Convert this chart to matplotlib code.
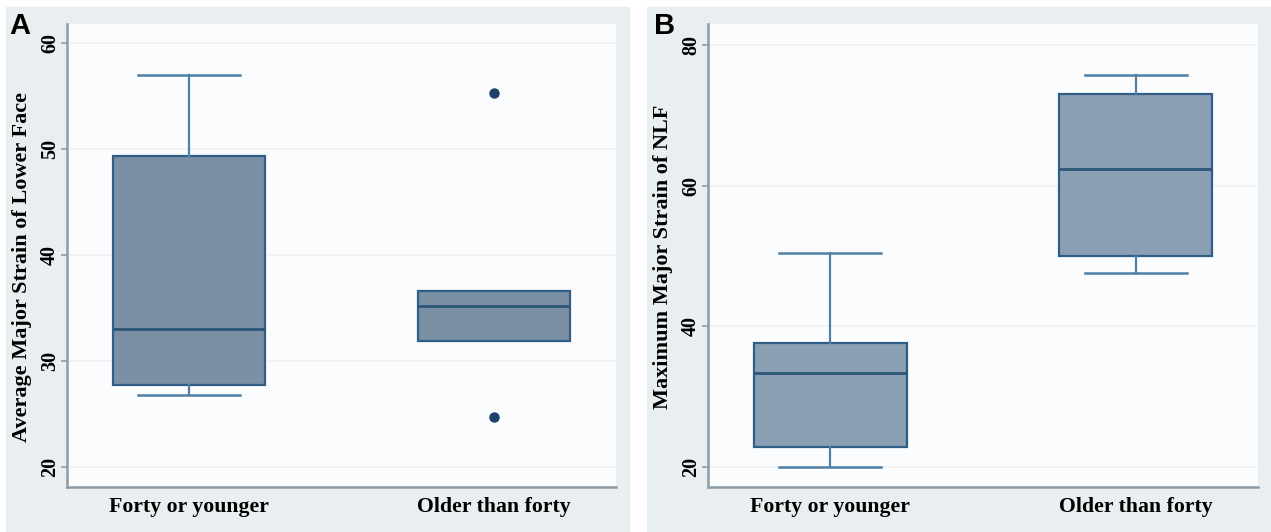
import numpy as np
import matplotlib.pyplot as plt
from matplotlib.patches import Rectangle

# Data
groups = ['Forty or younger', 'Older than forty']

# Panel A: average major strain of lower face
a_whislo = [26.8, 31.9]
a_q1 = [27.7, 31.9]
a_med = [33.0, 35.2]
a_q3 = [49.3, 36.6]
a_whishi = [57.0, 36.6]
a_fliers = [[], [55.3, 24.7]]

# Panel B: maximum major strain of NLF
b_whislo = [19.9, 47.6]
b_q1 = [22.8, 50.0]
b_med = [33.3, 62.4]
b_q3 = [37.6, 73.1]
b_whishi = [50.4, 75.8]
b_fliers = [[], []]

bg = '#e9eff1'
axis_col = '#8c9ba6'
edge_col = '#2f5f86'
whisk_col = '#4f80a6'

plt.rcParams['font.family'] = ['Liberation Serif', 'DejaVu Serif']

fig = plt.figure(figsize=(12.71, 5.32), dpi=100)
fig.patch.set_facecolor('white')
# panel backgrounds
fig.patches.append(Rectangle((6 / 1271, 0), 623 / 1271, 1 - 7 / 532,
                             transform=fig.transFigure, color=bg, zorder=-10))
fig.patches.append(Rectangle((647 / 1271, 0), 624 / 1271, 1 - 7 / 532,
                             transform=fig.transFigure, color=bg, zorder=-10))


def make_stats(lo, q1, med, q3, hi, fl):
    out = []
    for i in range(len(med)):
        out.append(dict(whislo=lo[i], q1=q1[i], med=med[i], q3=q3[i],
                        whishi=hi[i], fliers=fl[i], label=groups[i]))
    return out


def draw_panel(ax, stats, fill, ylim, yticks, ylabel, label_y, letter, letter_x):
    ax.set_facecolor('#fbfcfd')
    for y in yticks:
        ax.axhline(y, color='#eef1f2', lw=1.2, zorder=0)
    caps = [0.0 if s['whislo'] == s['q1'] and s['whishi'] == s['q3'] else 0.333
            for s in stats]
    for i, s in enumerate(stats):
        ax.bxp([s], positions=[i + 1], widths=0.5, patch_artist=True,
               capwidths=[caps[i]],
               boxprops=dict(facecolor=fill, edgecolor=edge_col, lw=1.6),
               medianprops=dict(color='#2b5678', lw=2.0),
               whiskerprops=dict(color=whisk_col, lw=1.6),
               capprops=dict(color=whisk_col, lw=1.8),
               flierprops=dict(marker='o', markersize=6.5,
                               markerfacecolor='#1d416a',
                               markeredgecolor='#1d416a'),
               showcaps=caps[i] > 0)
    ax.set_xlim(0.6, 2.4)
    ax.set_ylim(*ylim)
    ax.set_yticks(yticks)
    ax.set_yticklabels([str(t) for t in yticks], rotation=90, va='center',
                       fontsize=14.5, fontweight='bold')
    ax.set_xticks([1, 2])
    ax.set_xticklabels(groups, fontsize=15.7, fontweight='bold')
    ax.tick_params(axis='x', length=0, pad=7)
    ax.tick_params(axis='y', length=4, width=1.2, color=axis_col, pad=1)
    for side in ['top', 'right']:
        ax.spines[side].set_visible(False)
    for side in ['left', 'bottom']:
        ax.spines[side].set_color(axis_col)
        ax.spines[side].set_linewidth(1.8)
    ax.set_ylabel(ylabel, fontsize=16, fontweight='bold')
    w = ax.get_position().width * 1271
    ax.yaxis.set_label_coords(-35 / w, label_y)
    fig.text(letter_x, 1 - 34 / 532, letter, family='Liberation Sans',
             fontsize=21, fontweight='bold', ha='left', va='baseline')


axA = fig.add_axes([67 / 1271, 1 - 487 / 532, 549 / 1271, 463 / 532])
draw_panel(axA, make_stats(a_whislo, a_q1, a_med, a_q3, a_whishi, a_fliers),
           '#7b8fa5', (18.1, 61.8), [20, 30, 40, 50, 60],
           'Average Major Strain of Lower Face', 0.475, 'A', 9 / 1271)

axB = fig.add_axes([708 / 1271, 1 - 487 / 532, 550 / 1271, 463 / 532])
draw_panel(axB, make_stats(b_whislo, b_q1, b_med, b_q3, b_whishi, b_fliers),
           '#8a9fb3', (17.1, 83.0), [20, 40, 60, 80],
           'Maximum Major Strain of NLF', 0.497, 'B', 654 / 1271)

fig.savefig('out.png', dpi=100, facecolor=fig.get_facecolor())
